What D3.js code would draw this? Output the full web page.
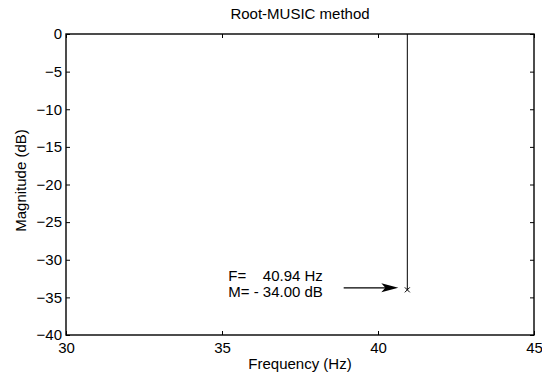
<!DOCTYPE html>
<html>
<head>
<meta charset="utf-8">
<script src="https://cdn.jsdelivr.net/npm/d3@7"></script>
<style>
  html, body { margin: 0; padding: 0; background: #fff; }
  svg { display: block; font-family: "Liberation Sans", Arial, sans-serif; }
</style>
</head>
<body>
<svg id="chart" width="542" height="374"></svg>
<script>
// Estimated spectral peak from the root-MUSIC estimator
const peakFreq = [40.94];
const peakMag = [-34.00];
const xTicks = [30, 35, 40, 45];
const yTicks = [0, -5, -10, -15, -20, -25, -30, -35, -40];
const titleText = "Root-MUSIC method";
const xLabel = "Frequency (Hz)";
const yLabel = "Magnitude (dB)";

const svg = d3.select("#chart");
const m = { left: 66, right: 8, top: 34, bottom: 39 };
const W = 542, H = 374;

const x = d3.scaleLinear().domain([30, 45]).range([m.left, W - m.right]);
const y = d3.scaleLinear().domain([-40, 0]).range([H - m.bottom, m.top]);

const fs = 15;
const tickLen = 4;

function htext(px, py, str, anchor) {
  return svg.append("text")
    .attr("x", px).attr("y", py)
    .attr("text-anchor", anchor || "start")
    .attr("font-size", fs)
    .attr("fill", "#000")
    .style("white-space", "pre")
    .text(str);
}

// Axes with inward ticks on all four sides
const gx = svg.append("g").attr("transform", `translate(0,${y(-40)})`)
  .call(d3.axisBottom(x).tickValues(xTicks).tickSize(-tickLen).tickPadding(7).tickFormat(d3.format("d")));
const gy = svg.append("g").attr("transform", `translate(${x(30)},0)`)
  .call(d3.axisLeft(y).tickValues(yTicks).tickSize(-tickLen).tickPadding(4).tickFormat(d3.format("d")));
const gxt = svg.append("g").attr("transform", `translate(0,${y(0)})`)
  .call(d3.axisTop(x).tickValues(xTicks).tickSize(-tickLen).tickFormat(""));
const gyr = svg.append("g").attr("transform", `translate(${x(45)},0)`)
  .call(d3.axisRight(y).tickValues(yTicks).tickSize(-tickLen).tickFormat(""));

[gx, gy, gxt, gyr].forEach(g => {
  g.select(".domain").remove();
  g.selectAll("line").attr("stroke", "#000").attr("stroke-width", 1);
  g.selectAll("text")
    .attr("fill", "#000")
    .attr("font-size", fs)
    .attr("font-family", "Liberation Sans, Arial, sans-serif");
});

// Plot box
svg.append("rect")
  .attr("x", x(30)).attr("y", y(0))
  .attr("width", x(45) - x(30)).attr("height", y(-40) - y(0))
  .attr("fill", "none").attr("stroke", "#000").attr("stroke-width", 1.4);

// Stem from the top edge down to the peak
const px = x(peakFreq[0]), py = y(peakMag[0]);
svg.append("line")
  .attr("x1", px).attr("x2", px).attr("y1", y(0)).attr("y2", py)
  .attr("stroke", "#000").attr("stroke-width", 1);

// Peak marker
const s = 2.5;
svg.append("path")
  .attr("d", `M${px - s},${py - s}L${px + s},${py + s}M${px - s},${py + s}L${px + s},${py - s}`)
  .attr("stroke", "#000").attr("stroke-width", 1);

// Annotation arrow
const ay = py - 2;
const ax0 = x(38.9), ax1 = px - 9;
svg.append("line")
  .attr("x1", ax0).attr("x2", ax1 - 8).attr("y1", ay).attr("y2", ay)
  .attr("stroke", "#000").attr("stroke-width", 1.1);
svg.append("path")
  .attr("d", `M${ax1},${ay}L${ax1 - 17},${ay - 4.5}L${ax1 - 13},${ay}L${ax1 - 17},${ay + 4.5}Z`)
  .attr("fill", "#000");

// Annotation text
const tx = x(35.2);
htext(tx, py - 9, `F=    ${peakFreq[0].toFixed(2)} Hz`);
htext(tx, py + 7, `M= - ${Math.abs(peakMag[0]).toFixed(2)} dB`);

// Titles
const cx = (x(30) + x(45)) / 2;
htext(cx, 19, titleText, "middle");
htext(cx, 369, xLabel, "middle");
svg.append("text")
  .attr("transform", `translate(26,${(y(0) + y(-40)) / 2 - 4}) rotate(-90)`)
  .attr("text-anchor", "middle").attr("font-size", fs).attr("fill", "#000")
  .text(yLabel);
</script>
</body>
</html>
